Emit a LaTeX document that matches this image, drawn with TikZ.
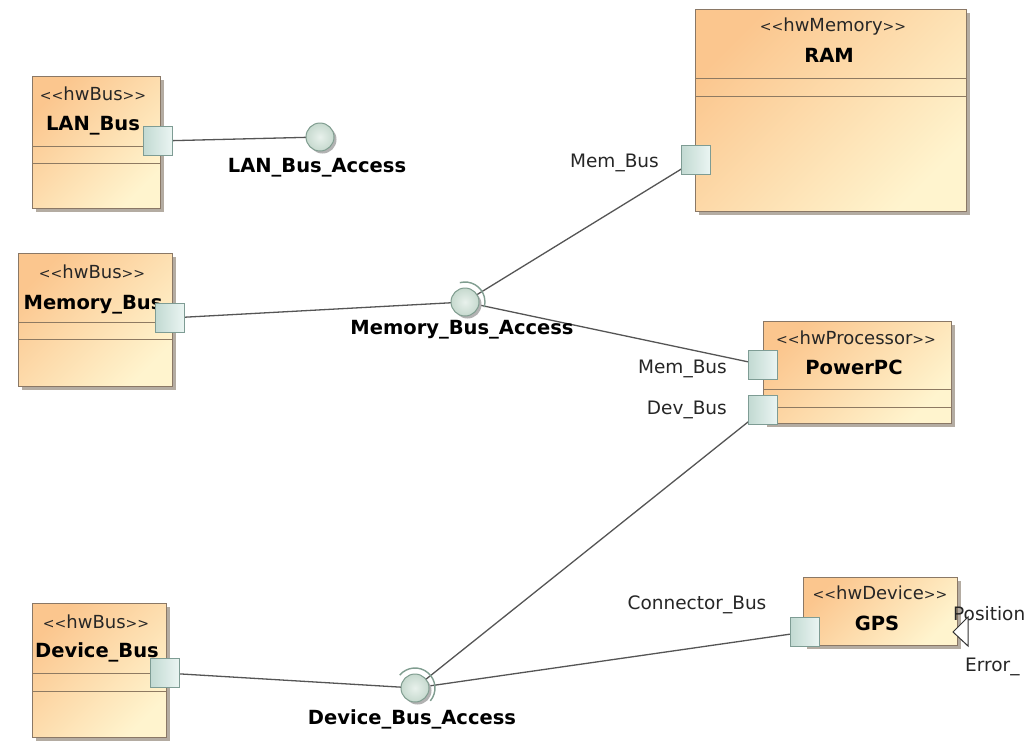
\documentclass[tikz,border=0pt]{standalone}
\usepackage{fontspec}
\setmainfont{DejaVu Sans}
\usetikzlibrary{shadows,backgrounds}

\definecolor{boxA}{HTML}{FBC68E}
\definecolor{boxB}{HTML}{FFF4CE}
\definecolor{boxline}{HTML}{8A7866}
\definecolor{compline}{HTML}{8E7A62}
\definecolor{portline}{HTML}{7E9C94}
\definecolor{portA}{HTML}{C2DAD2}
\definecolor{portB}{HTML}{EBF5F3}
\definecolor{ballA}{HTML}{E8F1EC}
\definecolor{ballB}{HTML}{C6D9CE}
\definecolor{ballline}{HTML}{809D90}
\definecolor{wire}{HTML}{555555}
\definecolor{shade}{HTML}{B4ACA2}

% stereotype brackets set a little smaller than the keyword
\newcommand{\stype}[1]{{\fontsize{14}{14}\selectfont<{}<}#1{\fontsize{14}{14}\selectfont>{}>}}

\tikzset{
  hwbox/.style={draw=boxline, line width=0.9pt, top color=boxA, bottom color=boxB,
    shading angle=45, inner sep=0pt, outer sep=0pt,
    drop shadow={shadow xshift=4pt, shadow yshift=-4pt, fill=shade, opacity=1}},
  comp/.style={draw=compline, line width=0.9pt},
  port/.style={draw=portline, line width=0.8pt, left color=portA, right color=portB,
    minimum size=29pt, inner sep=0pt, outer sep=0pt},
  ball/.style={circle, draw=ballline, line width=1pt, inner color=ballA, outer color=ballB,
    minimum size=28pt, inner sep=0pt, outer sep=0pt,
    drop shadow={shadow xshift=2.5pt, shadow yshift=-2.5pt, fill=black!30, opacity=1}},
  socket/.style={draw=ballline, line width=1.4pt},
  conn/.style={draw=wire, line width=1.3pt},
  stereo/.style={font=\fontsize{18}{20}\selectfont, text=black!85, inner sep=0pt, anchor=base},
  bname/.style={font=\fontsize{19.5}{22}\selectfont\bfseries, text=black, inner sep=0pt, anchor=base},
  plabel/.style={font=\fontsize{18.5}{20}\selectfont, text=black!85, inner sep=0pt},
}

\begin{document}
\begin{tikzpicture}[x=1pt,y=-1pt]
  \useasboundingbox (0,0) rectangle (1030,742);
  \clip (0,0) rectangle (1030,742);
  \begin{scope}[on background layer]
    \fill[white] (0,0) rectangle (1030,742);
  \end{scope}

  % hardware blocks
  \node[hwbox, minimum width=128pt, minimum height=132pt] (lan) at (96,142) {};
  \node[hwbox, minimum width=154pt, minimum height=133pt] (mem) at (95,319.5) {};
  \node[hwbox, minimum width=134pt, minimum height=134pt] (dev) at (99,670) {};
  \node[hwbox, minimum width=271pt, minimum height=202pt] (ram) at (830.5,110) {};
  \node[hwbox, minimum width=188pt, minimum height=102pt] (ppc) at (857,372) {};
  \node[hwbox, minimum width=154pt, minimum height=68pt] (gps) at (880,611) {};

  % compartment separators
  \foreach \b/\ya/\yb in {lan/146/163, mem/322/339, dev/673/691, ram/78/96, ppc/389/407}{
    \draw[comp] (\b.west |- 0,\ya) -- (\b.east |- 0,\ya);
    \draw[comp] (\b.west |- 0,\yb) -- (\b.east |- 0,\yb);
  }

  % stereotypes and names
  \node[stereo] (lanst) at (93,100) {\stype{hwBus}};
  \node[bname] (lannm) at (93,130) {LAN\_Bus};
  \node[stereo] (memst) at (92,278.5) {\stype{hwBus}};
  \node[bname] (memnm) at (93,309) {Memory\_Bus};
  \node[stereo] (devst) at (96,628.5) {\stype{hwBus}};
  \node[bname] (devnm) at (97,657) {Device\_Bus};
  \node[stereo] (ramst) at (833,31.5) {\stype{hwMemory}};
  \node[bname] (ramnm) at (829,62) {RAM};
  \node[stereo] (ppcst) at (856,344.5) {\stype{hwProcessor}};
  \node[bname] (ppcnm) at (854,374) {PowerPC};
  \node[stereo] (gpsst) at (880,599.5) {\stype{hwDevice}};
  \node[bname] (gpsnm) at (877,630) {GPS};

  % ports
  \node[port] (lanp) at (158,141) {};
  \node[port] (memp) at (170,318) {};
  \node[port] (devp) at (165,673) {};
  \node[port] (ramp) at (696,160) {};
  \node[port] (ppcm) at (763,365) {};
  \node[port] (ppcd) at (763,410) {};
  \node[port] (gpsp) at (805,632) {};

  % port labels
  \node[plabel, anchor=base east] (ramlb) at (659,167.5) {Mem\_Bus};
  \node[plabel, anchor=base east] (ppcmlb) at (727,373.5) {Mem\_Bus};
  \node[plabel, anchor=base east] (ppcdlb) at (727,414.5) {Dev\_Bus};
  \node[plabel, anchor=base] (gpslb) at (697,609.5) {Connector\_Bus};
  \node[plabel, anchor=base west] (poslb) at (953,620.5) {Position};
  \node[plabel, anchor=base west] (errlb) at (965,671.5) {Error\_};

  % output flow port on the GPS block
  \draw[draw=black!80, line width=1pt, fill=white, line join=miter]
    (968,617) -- (953,632) -- (968,646) -- cycle;

  % bus access interfaces
  \node[ball] (lanc) at (320,137) {};
  \node[ball] (memc) at (465,302) {};
  \node[ball] (devc) at (415,688) {};
  \draw[socket] (memc.center) ++(-105:20) arc[start angle=-105, end angle=15, radius=20];
  \draw[socket] (devc.center) ++(-140:20) arc[start angle=-140, end angle=40, radius=20];

  \node[bname] (lanclb) at (317,172) {LAN\_Bus\_Access};
  \node[bname] (memclb) at (462,334) {Memory\_Bus\_Access};
  \node[bname] (devclb) at (412,724) {Device\_Bus\_Access};

  % connectors
  \begin{scope}[on background layer]
    \draw[conn] (lanp.center) -- (lanc.center);
    \draw[conn] (memp.center) -- (memc.center);
    \draw[conn] (memc.center) -- (ramp.center);
    \draw[conn] (memc.center) -- (ppcm.center);
    \draw[conn] (devp.center) -- (devc.center);
    \draw[conn] (devc.center) -- (ppcd.center);
    \draw[conn] (devc.center) -- (gpsp.center);
  \end{scope}
\end{tikzpicture}
\end{document}
